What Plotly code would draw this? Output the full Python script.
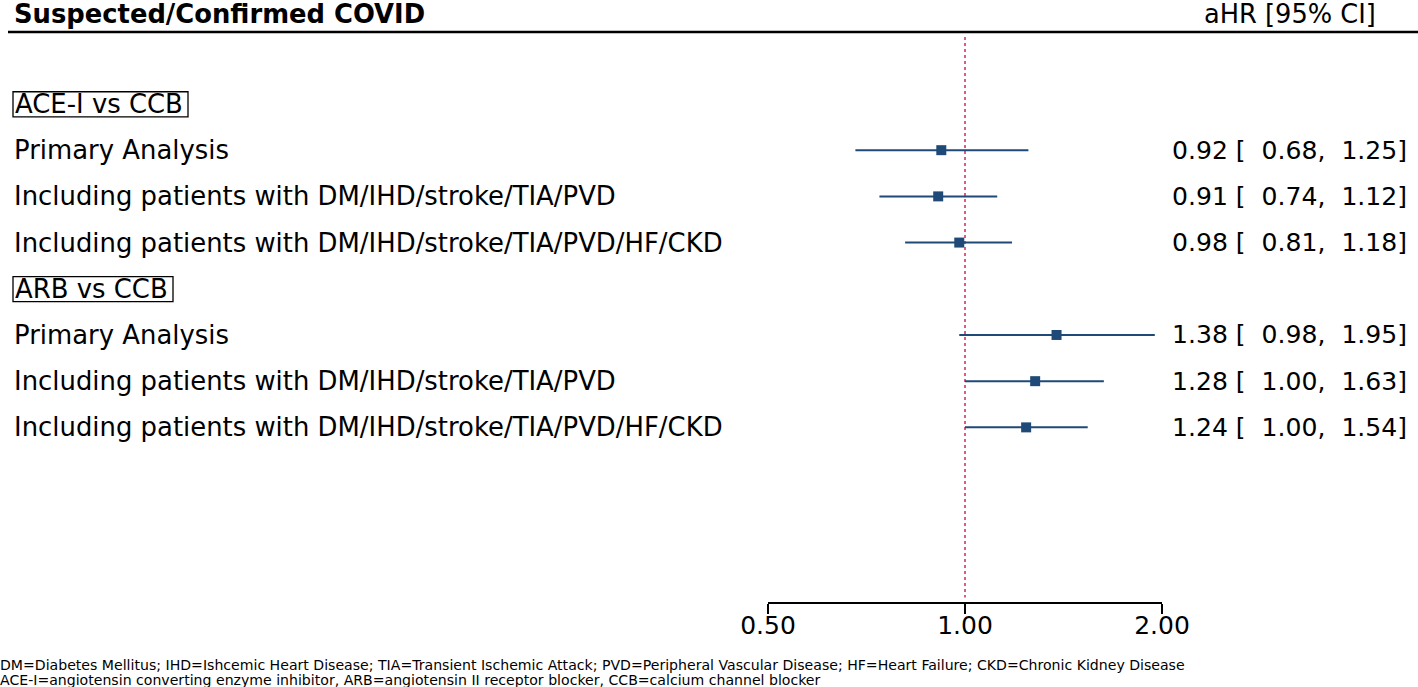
import plotly.graph_objects as go
import numpy as np

W, H = 1418, 687

groups = ["ACE-I vs CCB", "ARB vs CCB"]
analyses = ["Primary Analysis",
            "Including patients with DM/IHD/stroke/TIA/PVD",
            "Including patients with DM/IHD/stroke/TIA/PVD/HF/CKD"]
hr = [[0.92, 0.91, 0.98], [1.38, 1.28, 1.24]]
lo = [[0.68, 0.74, 0.81], [0.98, 1.00, 1.00]]
hi = [[1.25, 1.12, 1.18], [1.95, 1.63, 1.54]]
tick_vals = [0.5, 1.0, 2.0]
tick_text = ["0.50", "1.00", "2.00"]
title = "Suspected/Confirmed COVID"
col_header = "aHR [95% CI]"
footnotes = ["DM=Diabetes Mellitus; IHD=Ishcemic Heart Disease; TIA=Transient Ischemic Attack; PVD=Peripheral Vascular Disease; HF=Heart Failure; CKD=Chronic Kidney Disease",
             "ACE-I=angiotensin converting enzyme inhibitor, ARB=angiotensin II receptor blocker, CCB=calcium channel blocker"]

FONT = "DejaVu Sans"
NAVY = "#1f4a78"
HEADER_BOX_RIGHT = [188, 173]  # pixel right edge of group header boxes

def px_x(p):
    return p / W

def px_y(p):
    return 1 - p / H

fig = go.Figure()

rows = []
r = 1
header_rows = []
for g in range(len(groups)):
    header_rows.append(r)
    r += 1
    for a in range(len(analyses)):
        rows.append((g, a, r))
        r += 1

fig.add_trace(go.Scatter(x=[1, 1], y=[-0.45, 11.68], mode="lines",
                         line=dict(color="#d6245a", width=1.5, dash="dot"),
                         hoverinfo="skip", showlegend=False))

annotations = []
shapes = []
for g, a, ry in rows:
    fig.add_trace(go.Scatter(x=[lo[g][a], hi[g][a]], y=[ry, ry], mode="lines",
                             line=dict(color=NAVY, width=2), showlegend=False,
                             hoverinfo="skip"))
    fig.add_trace(go.Scatter(x=[hr[g][a]], y=[ry], mode="markers",
                             marker=dict(symbol="square", size=10, color=NAVY),
                             showlegend=False))
    annotations.append(dict(x=px_x(12), y=ry, xref="paper", yref="y",
                            text=analyses[a], showarrow=False, xanchor="left",
                            yanchor="middle", font=dict(family=FONT, size=25.9, color="black")))
    s = "%.2f [\u00a0\u00a0%.2f,\u00a0\u00a0%.2f]" % (hr[g][a], lo[g][a], hi[g][a])
    annotations.append(dict(x=px_x(1409), y=ry, xref="paper", yref="y",
                            text=s, showarrow=False, xanchor="right",
                            yanchor="middle", font=dict(family=FONT, size=25.1, color="black")))

for g, hrow in enumerate(header_rows):
    annotations.append(dict(x=px_x(13), y=hrow, xref="paper", yref="y",
                            text=groups[g], showarrow=False, xanchor="left",
                            yanchor="middle", font=dict(family=FONT, size=25.9, color="black")))
    shapes.append(dict(type="rect", xref="paper", yref="y",
                       x0=px_x(13), x1=px_x(HEADER_BOX_RIGHT[g]),
                       y0=hrow - 0.265, y1=hrow + 0.28,
                       line=dict(color="black", width=1.3), fillcolor="rgba(0,0,0,0)"))

annotations.append(dict(x=px_x(12), y=px_y(14), xref="paper", yref="paper",
                        text="<b>%s</b>" % title, showarrow=False, xanchor="left",
                        yanchor="middle",
                        font=dict(family=FONT, size=25.8, color="black")))
annotations.append(dict(x=px_x(1378), y=px_y(14), xref="paper", yref="paper",
                        text=col_header, showarrow=False, xanchor="right",
                        yanchor="middle",
                        font=dict(family=FONT, size=25.7, color="black")))
for i, ft in enumerate(footnotes):
    annotations.append(dict(x=px_x(-2), y=px_y(665 + 14.5 * i), xref="paper", yref="paper",
                            text=ft, showarrow=False, xanchor="left",
                            yanchor="middle", align="left",
                            font=dict(family=FONT, size=14.1, color="black")))

shapes.append(dict(type="line", xref="paper", yref="paper", x0=px_x(8), x1=1,
                   y0=px_y(32), y1=px_y(32), line=dict(color="black", width=2.5)))

fig.update_layout(
    width=W, height=H,
    margin=dict(l=0, r=0, t=0, b=0, pad=0, autoexpand=False),
    paper_bgcolor="white", plot_bgcolor="white",
    annotations=annotations, shapes=shapes,
    xaxis=dict(type="log", range=[np.log10(0.5), np.log10(2.0)],
               domain=[px_x(768), px_x(1162)], automargin=False,
               tickvals=tick_vals, ticktext=tick_text,
               showline=True, linecolor="black", linewidth=2,
               ticks="outside", ticklen=10, tickwidth=2, tickcolor="black",
               ticklabelstandoff=-10,
               showgrid=False, zeroline=False,
               tickfont=dict(family=FONT, size=25, color="black")),
    yaxis=dict(range=[11.78, -0.558], domain=[px_y(602), px_y(32)],
               automargin=False,
               showgrid=False, zeroline=False, showticklabels=False,
               showline=False),
    showlegend=False,
)

fig.write_html("out.html", config={"displayModeBar": False},
               post_script="document.body.style.margin='0px';document.body.style.padding='0px';")
